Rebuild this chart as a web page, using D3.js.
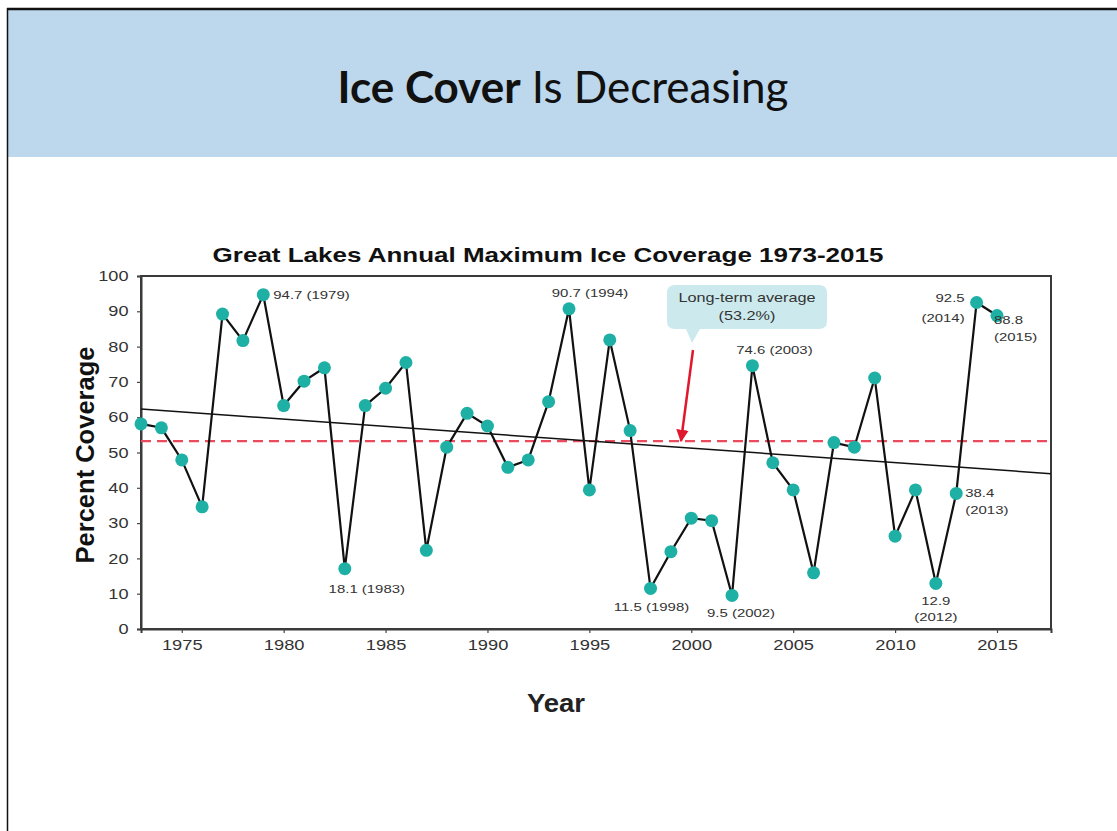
<!DOCTYPE html>
<html><head><meta charset="utf-8">
<script src="https://cdn.jsdelivr.net/npm/d3@7"></script>
<style>
html,body{margin:0;padding:0;background:#fff;overflow:hidden;}
</style></head>
<body>
<svg id="c" width="1117" height="831"></svg>
<script>
// ---- data ----
const years = d3.range(1973, 2016);
const coverage = [58.1, 57.0, 47.9, 34.6, 89.2, 81.7, 94.7, 63.3, 70.2, 74.0,
  17.1, 63.3, 68.2, 75.5, 22.3, 51.5, 61.1, 57.5, 45.8, 47.9,
  64.4, 90.7, 39.4, 81.9, 56.2, 11.5, 21.9, 31.4, 30.7, 9.5,
  74.6, 47.1, 39.4, 15.9, 52.8, 51.5, 71.1, 26.3, 39.4, 12.9,
  38.4, 92.5, 88.8];
const longTermAverage = 53.2;
const trendYears = [1973, 2017.65];
const trendValues = [62.3, 44.0];
const yTicks = [0,10,20,30,40,50,60,70,80,90,100];
const xTicks = [1975,1980,1985,1990,1995,2000,2005,2010,2015];
const labelYears = [1979, 1983, 1994, 1998, 2002, 2003, 2012, 2013, 2014, 2015];
const labelTexts = [["94.7 (1979)"],["18.1 (1983)"],["90.7 (1994)"],["11.5 (1998)"],["9.5 (2002)"],
  ["74.6 (2003)"],["12.9","(2012)"],["38.4","(2013)"],["92.5","(2014)"],["88.8","(2015)"]];
const slideTitleBold = "Ice Cover";
const slideTitleRest = " Is Decreasing";
const chartTitle = "Great Lakes Annual Maximum Ice Coverage 1973-2015";
const calloutLines = ["Long-term average", "(53.2%)"];

// ---- layout (positions / styles) ----
const SX = 1.3; // horizontal stretch of the chart's text
const FONT = "'Liberation Sans', Arial, sans-serif";
const labelLayout = {
  1979:{dx:10, dy:4, anchor:"start", lh:0},
  1983:{dx:22, dy:24, anchor:"middle", lh:0},
  1994:{dx:21, dy:-12, anchor:"middle", lh:0},
  1998:{dx:1, dy:23, anchor:"middle", lh:0},
  2002:{dx:9, dy:22, anchor:"middle", lh:0},
  2003:{dx:22, dy:-12, anchor:"middle", lh:0},
  2012:{dx:0, dy:22, anchor:"middle", lh:16},
  2013:{dx:9, dy:4, anchor:"start", lh:17},
  2014:{dx:-12, dy:0, anchor:"end", lh:20},
  2015:{dx:-3, dy:8, anchor:"start", lh:17}
};

const svg = d3.select("#c");

// slide frame
svg.append("rect").attr("x",0).attr("y",0).attr("width",1117).attr("height",831).attr("fill","#fff");
svg.append("rect").attr("x",8).attr("y",10).attr("width",1109).attr("height",147).attr("fill","#bdd7ec");
svg.append("line").attr("x1",7).attr("x2",1117).attr("y1",9).attr("y2",9).attr("stroke","#111").attr("stroke-width",2.5);
svg.append("line").attr("x1",7.5).attr("x2",7.5).attr("y1",8).attr("y2",831).attr("stroke","#111").attr("stroke-width",1.5);

// slide title
const st = svg.append("text").attr("x",563).attr("y",103).attr("text-anchor","middle")
  .attr("font-family","Lato, 'Open Sans', sans-serif").attr("font-size",44).attr("fill","#111");
st.append("tspan").attr("font-weight","bold").text(slideTitleBold);
st.append("tspan").text(slideTitleRest);

// helper: stretched text group
function stext(parent, px, py, str, size, anchor, opts={}) {
  const g = parent.append("g").attr("transform",`translate(${px},${py}) scale(${opts.sx||SX},1)`);
  const t = g.append("text").attr("text-anchor",anchor).attr("font-family",FONT)
    .attr("font-size",size).attr("fill",opts.fill||"#333");
  if (opts.bold) t.attr("font-weight","bold");
  t.text(str);
  return t;
}

// chart title
stext(svg, 548, 262, chartTitle, 20, "middle", {bold:true, fill:"#111"});

// scales
const x = d3.scaleLinear().domain([1973, 2017.65]).range([141, 1051]);
const y = d3.scaleLinear().domain([0, 100]).range([629, 276]);

// frame box
svg.append("rect").attr("x",x.range()[0]).attr("y",y(100)).attr("width",x.range()[1]-x.range()[0])
  .attr("height",y(0)-y(100)).attr("fill","none").attr("stroke","#3a3a3a").attr("stroke-width",2);

// axes
const yAxis = svg.append("g").attr("transform",`translate(${x.range()[0]},0)`)
  .call(d3.axisLeft(y).tickValues(yTicks).tickSize(4).tickPadding(6));
const xAxis = svg.append("g").attr("transform",`translate(0,${y(0)})`)
  .call(d3.axisBottom(x).tickValues(xTicks).tickFormat(d3.format("d")).tickSize(4).tickPadding(6));
[yAxis,xAxis].forEach(a=>{
  a.select(".domain").attr("stroke","#3a3a3a").attr("stroke-width",2);
  a.selectAll(".tick line").attr("stroke","#444").attr("stroke-width",1.2);
  a.selectAll(".tick text").attr("font-family",FONT).attr("fill","#333");
});
yAxis.selectAll(".tick text").attr("font-size",14.5).attr("transform","scale(1.25,1)");
xAxis.selectAll(".tick text").attr("font-size",15).attr("transform","scale(1.22,1)");

// axis titles
svg.append("text").attr("transform","translate(94,455) rotate(-90)").attr("text-anchor","middle")
  .attr("font-family",FONT).attr("font-weight","bold")
  .attr("font-size",25.5).attr("fill","#111").text("Percent Coverage");
stext(svg, 556, 712, "Year", 25, "middle", {bold:true, fill:"#222", sx:1.1});

const plot = svg.append("g");

// long-term average dashed line
plot.append("line").attr("x1",x.range()[0]).attr("x2",x.range()[1])
  .attr("y1",y(longTermAverage)).attr("y2",y(longTermAverage))
  .attr("stroke","#ec4a5e").attr("stroke-width",2.2).attr("stroke-dasharray","10,6");

// trend line
plot.append("line").attr("x1",x(trendYears[0])).attr("x2",x(trendYears[1]))
  .attr("y1",y(trendValues[0])).attr("y2",y(trendValues[1]))
  .attr("stroke","#111").attr("stroke-width",1.5);

// data line
const pts = years.map((yr,i)=>({year:yr, v:coverage[i]}));
plot.append("path").datum(pts)
  .attr("d", d3.line().x(d=>x(d.year)).y(d=>y(d.v)))
  .attr("fill","none").attr("stroke","#111").attr("stroke-width",2.2);

// markers
plot.selectAll("circle.m").data(pts).join("circle").attr("class","m")
  .attr("cx",d=>x(d.year)).attr("cy",d=>y(d.v)).attr("r",6.5)
  .attr("fill","#1fb0a5");

// point labels
labelYears.forEach((yr,i)=>{
  const v = coverage[years.indexOf(yr)];
  const L = labelLayout[yr];
  labelTexts[i].forEach((s,j)=>{
    stext(svg, x(yr)+L.dx, y(v)+L.dy+j*L.lh, s, 11.5, L.anchor);
  });
});

// callout
const cb = svg.append("g");
const bx=667, by=285, bw=160, bh=44, tipX=692, tipY=343;
cb.append("path").attr("d",
  `M${bx+8},${by} H${bx+bw-8} Q${bx+bw},${by} ${bx+bw},${by+8} V${by+bh-8} Q${bx+bw},${by+bh} ${bx+bw-8},${by+bh}
   H${tipX+8} L${tipX},${tipY} L${tipX-6},${by+bh} H${bx+8} Q${bx},${by+bh} ${bx},${by+bh-8} V${by+8} Q${bx},${by} ${bx+8},${by} Z`)
  .attr("fill","#c9e8ec").attr("opacity",0.95);
calloutLines.forEach((s,j)=>{
  stext(cb, bx+bw/2, by+17+j*18, s, 12.5, "middle");
});
// red arrow
svg.append("defs").append("marker").attr("id","ah").attr("viewBox","0 0 10 10").attr("refX",9).attr("refY",5)
  .attr("markerWidth",5).attr("markerHeight",5).attr("orient","auto")
  .append("path").attr("d","M0,0 L10,5 L0,10 Z").attr("fill","#e0182d");
svg.append("line").attr("x1",693).attr("y1",350).attr("x2",681).attr("y2",441)
  .attr("stroke","#e0182d").attr("stroke-width",2.5).attr("marker-end","url(#ah)");
</script>
</body></html>
